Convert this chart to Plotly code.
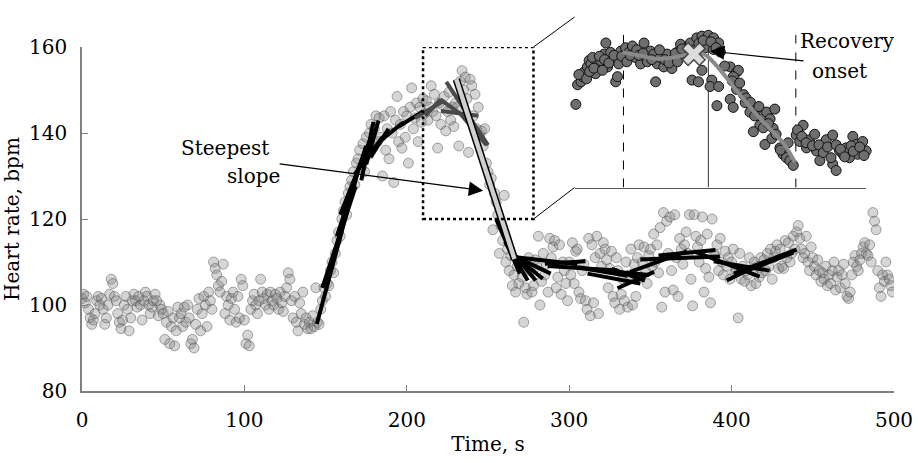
import plotly.graph_objects as go

# ---------------- data ----------------
t_sec = list(range(500))
heart_rate = [
    101.5, 102.5, 100.5, 102, 99, 97, 95.5, 96.5, 98, 101,
    102, 100, 101.5, 99, 95.5, 97, 100, 102.5, 106, 105,
    102, 101, 98, 96, 94.5, 96.5, 100, 102, 99, 94,
    97, 101, 102.5, 101, 99.5, 102, 100, 96.5, 101, 103,
    102, 100, 98, 99.5, 101, 102.5, 101, 97.5, 100, 99,
    98, 92, 96, 98.5, 91, 95, 97, 90.5, 94, 99.5,
    97, 98, 95, 99.5, 96, 100, 97, 91, 92, 90,
    95.5, 99, 101.5, 94, 98, 102, 100, 95, 103, 101,
    99, 110, 108.5, 107, 104.5, 103, 105.5, 109.5, 98, 102,
    100, 96.5, 101.5, 103, 99, 96, 102, 97, 106, 104.5,
    96.5, 91, 93, 90.5, 99, 101, 102.5, 100, 98, 101,
    106, 103, 101.5, 100, 102.5, 99, 103, 101, 100, 102.5,
    101.5, 99, 103, 100.5, 98.5, 102, 104, 107.5, 106, 101,
    97, 102, 96, 94, 100.5, 98, 103, 95.5, 97, 94.5,
    96, 94.5, 97.5, 95, 104, 96, 95.5, 99, 101, 104,
    102, 105, 104.5, 108, 110, 107.5, 112, 115, 117, 116,
    120, 122, 124, 121, 126, 127.5, 129, 131, 128, 133,
    134, 136, 132, 137.5, 131, 139, 135, 140, 142, 137,
    141, 144, 138, 143.5, 139, 130, 144, 136, 141, 134,
    145, 140, 128.5, 143, 148.5, 138, 142, 136.5, 145, 139,
    144, 133, 146, 150.5, 141, 143.5, 147, 138, 146, 142.5,
    148, 144.5, 147.5, 143, 146, 151, 145, 149, 144, 136.5,
    147, 142, 146.5, 148.5, 140.5, 145, 149.5, 143, 146, 141.5,
    147, 146, 137, 152, 154.5, 150, 153, 148, 135.5, 152.5,
    151, 144, 149, 141, 146, 139.5, 140.5, 137, 141, 133,
    131, 128, 129.5, 117.5, 126, 124, 121, 112, 118.5, 115,
    125.5, 110, 113, 108, 111.5, 104.5, 107, 103, 109, 105,
    110, 106.5, 96, 104, 102.5, 111, 108, 103, 104.5, 110.5,
    109, 116, 100, 105.5, 112, 107, 109.5, 103, 115.5, 111,
    113.5, 115, 104, 106.5, 114, 102.5, 110, 108, 105, 101,
    110, 107, 114.5, 105, 112.5, 113, 103, 101.5, 108, 109.5,
    101, 99, 115.5, 97.5, 114, 100.5, 111, 116, 98, 112,
    109, 114.5, 113, 110.5, 104, 108.5, 112.5, 102, 100.5, 111,
    108, 99, 102.5, 106, 101, 110, 99.5, 107, 113, 100,
    109.5, 102, 111, 114, 106.5, 110, 113.5, 108, 105, 111.5,
    113, 109, 116.5, 110, 114, 107.5, 118, 99.5, 121.5, 103,
    119.5, 112, 120.5, 108, 103.5, 121, 111, 102, 115.5, 113,
    109.5, 114, 117, 112, 121, 106, 99.8, 121, 116, 113.5,
    110, 115, 120.5, 103, 108.5, 116.5, 106.5, 100.5, 120, 112,
    111.5, 114, 108, 115.5, 110, 107, 112.5, 109, 111, 106,
    110, 113, 107.5, 108, 97, 112, 106, 109, 105.5, 108,
    107, 111, 104.5, 108.5, 110, 105, 109, 106.5, 111, 107.5,
    110.5, 108, 112, 109, 113, 106, 111, 112.5, 114, 108.5,
    113, 109, 108.5, 115, 111, 114.5, 110, 112, 116, 113,
    117, 118.5, 115.5, 113, 111, 112, 116, 110, 108, 113.5,
    111, 109, 107, 110.5, 108, 105.5, 107.5, 106, 109, 104.5,
    107, 105, 108, 110, 103.5, 106.5, 108, 104, 107, 109.5,
    105, 102, 101.5, 103, 107, 110, 111.5, 109, 108, 110.5,
    112, 113.5, 114.5, 112, 111.5, 114, 110, 121.5, 119.5, 117.5,
    108, 104, 102, 107, 105.5, 110, 107, 106, 104.5, 103,
]

# local linear fits (black)
fit_x0 = [144.6, 148, 157, 159, 172, 175, 177.7, 168, 183, 195,
          255, 260.4, 263.5, 265.3, 266.5, 267.2, 285, 286.8, 305, 311.3,
          311.3, 329.7, 326, 337.6, 343.8, 355, 376.8, 389, 397, 401.3, 407.5]
fit_y0 = [95.6, 104, 116, 121, 129, 132.7, 134.3, 130.5, 138, 141.5,
          120, 114.7, 112.9, 111.8, 111.3, 111.1, 109.6, 109.1, 108.8, 108.4,
          107.3, 103.9, 108.4, 107.7, 110.6, 111.5, 112.5, 110.2, 105.7, 107.3, 107.7]
fit_x1 = [169.5, 168.5, 175, 178, 179.5, 182.6, 188.7, 185, 198, 210,
          269.6, 274.5, 279.4, 283.7, 288.6, 305.1, 310, 329.7, 335.8, 349.3,
          343.8, 352.3, 346.6, 372.5, 392.8, 390, 417.3, 423.4, 417.3, 440, 438]
fit_y1 = [130.5, 127.6, 137, 139, 142.6, 142.9, 141, 139, 142.5, 145,
          107.3, 105.7, 105.7, 106.1, 107.3, 109.5, 110.2, 108, 106.8, 107,
          105, 107.7, 105.7, 112.5, 111.3, 112.8, 106.6, 108, 109.5, 112.9, 112.2]

# local fits near the peak (dark grey)
peak_x0 = [205, 211.4, 220.6, 221, 224.3, 233]
peak_y0 = [143.5, 144, 147.8, 145.1, 151.9, 144.5]
peak_x1 = [222, 220.6, 232.8, 244, 250, 249]
peak_y1 = [147.3, 147.8, 144.5, 144, 137.2, 137.2]

# steepest slope fit
steep_x = [230.5, 266.3]
steep_y = [152.5, 110.7]

# zoom box (s, bpm)
box_x = [210, 278]
box_y = [120, 160]

# inset data
inset_x = [210.3, 209.9, 209.5, 210.7, 211.5, 211.9, 212.2, 213.0, 213.4, 213.8, 214.2, 214.9, 215.3,
           216.1, 216.9, 217.3, 217.7, 218.4, 218.8, 219.6, 220.0, 220.8, 221.5, 221.9, 222.7, 223.5,
           224.2, 225.4, 226.2, 226.6, 227.7, 228.5, 228.9, 229.3, 230.0, 230.8, 231.6, 232.7, 233.1,
           233.9, 234.7, 235.4, 236.2, 237.0, 238.5, 239.7, 241.2, 242.4, 243.6, 240.5, 242.4, 237.4,
           238.9, 239.7, 242.0, 241.6, 243.6, 243.2, 246.3, 247.8, 248.2, 247.0, 247.8, 249.4, 246.3,
           247.0, 249.8, 250.9, 252.5, 253.6, 254.8, 256.7, 255.6, 253.2, 251.7, 256.3, 254.4, 257.9,
           258.6, 259.4, 260.2, 261.0, 263.3, 261.7, 262.5, 264.8, 264.1, 266.4, 267.2, 267.9, 268.7,
           270.2, 270.2, 271.0, 271.8, 272.6, 273.3, 274.9, 275.7, 276.0, 277.2, 278.0, 274.1, 264.8,
           211.0, 212.8, 213.5, 214.5, 215.8, 216.5, 217.0, 218.0, 219.2, 220.3, 221.0, 222.2, 223.0,
           224.5, 225.0, 226.0, 227.0, 228.0, 229.8, 231.0, 232.0, 233.5, 234.0, 235.0, 236.5, 237.8,
           239.0, 240.0, 241.8, 243.0, 244.0, 245.0, 246.8, 248.5, 250.0, 251.0, 252.0, 253.0, 254.0,
           255.2, 256.0, 257.0, 258.0, 259.8, 262.0, 263.0, 264.0, 265.5, 266.0, 267.0, 268.0, 269.0,
           269.8, 271.0, 272.0, 273.0, 274.5, 275.0, 276.5, 277.5]
inset_y = [139.5, 147.9, 143.7, 144.1, 144.8, 146.0, 147.1, 148.3, 149.8, 149.0, 150.5, 146.7, 148.6,
           149.8, 151.3, 153.9, 148.3, 151.7, 149.8, 144.8, 146.0, 152.0, 150.5, 152.8, 151.7, 153.2,
           150.5, 149.0, 153.9, 150.5, 152.0, 151.3, 144.8, 149.0, 150.5, 148.3, 151.3, 147.9, 150.2,
           151.7, 153.6, 151.3, 152.8, 153.9, 155.1, 155.5, 155.7, 155.1, 153.9, 152.8, 152.4, 145.2,
           144.8, 147.5, 145.2, 143.7, 143.7, 139.2, 148.3, 147.1, 147.5, 146.0, 143.0, 141.8, 140.7,
           138.8, 139.9, 137.7, 138.4, 136.1, 137.7, 138.4, 136.1, 134.6, 133.1, 133.9, 130.1, 129.3,
           127.8, 127.0, 126.3, 125.2, 134.6, 132.3, 130.8, 131.2, 129.3, 128.6, 126.3, 130.1, 131.2,
           132.3, 125.5, 124.0, 128.6, 127.8, 129.3, 132.0, 130.1, 127.8, 130.8, 128.6, 127.0, 119.8,
           146.5, 145.5, 147.2, 148.0, 150.8, 147.5, 150.0, 149.2, 151.0, 149.0, 150.8, 149.5, 151.0,
           152.3, 151.0, 151.5, 149.5, 150.0, 152.3, 150.0, 149.2, 151.5, 149.5, 152.5, 150.8, 152.2,
           153.8, 154.5, 154.2, 152.8, 151.8, 148.5, 145.0, 144.5, 141.0, 140.0, 136.8, 139.0, 134.0,
           135.0, 131.5, 132.5, 128.8, 130.5, 133.5, 132.0, 130.5, 129.8, 132.5, 130.0, 128.2, 129.5,
           127.0, 130.0, 129.0, 127.2, 129.8, 128.5, 129.5, 127.5]

inset_fit_x = [221.2, 225.4, 229.3, 233.1, 237.0, 240.1, 241.6, 244.7, 249.4, 254.0, 258.6, 261.4]
inset_fit_y = [151.7, 150.9, 150.2, 150.5, 151.4, 151.3, 150.2, 146.7, 140.7, 135.4, 130.5, 125.9]

window_x = [221.4, 261.6]       # dashed window limits
window_top = [155.8, 155.8]
onset_x = 241.2
onset_top = 154.7
onset_marker = (237.8, 151.3)

# ---------------- geometry ----------------
W, H = 918, 463
ML, MR, MT, MB = 82, 20, 5, 72
AW, AH = W - ML - MR, H - MT - MB
X_RANGE = [0, 500]
Y_RANGE = [80, 160]
main_top = (H - MB - 36) / AH          # main axes top in paper units
inset_dom_x = [(577 - ML) / AW, (870 - ML) / AW]
inset_dom_y = [(H - MB - 181) / AH, 1.0]
FONT = "DejaVu Serif"
FS = 20


def px2paper_x(px):
    return (px - ML) / AW


def py2paper_y(py):
    return (H - MB - py) / AH


def main_to_paper(xv, yv):
    return ((xv - X_RANGE[0]) / (X_RANGE[1] - X_RANGE[0]),
            main_top * (yv - Y_RANGE[0]) / (Y_RANGE[1] - Y_RANGE[0]))


def seg_lists(x0, y0, x1, y1):
    xs, ys = [], []
    for a, b, c, d in zip(x0, y0, x1, y1):
        xs += [a, c, None]
        ys += [b, d, None]
    return xs, ys


fig = go.Figure()

fig.add_trace(go.Scatter(
    x=t_sec, y=heart_rate, mode="markers",
    marker=dict(size=10, color="rgba(128,128,128,0.33)",
                line=dict(color="rgba(70,70,70,0.45)", width=1)),
    showlegend=False, hoverinfo="skip"))

bx, by = seg_lists(fit_x0, fit_y0, fit_x1, fit_y1)
fig.add_trace(go.Scatter(x=bx, y=by, mode="lines",
                         line=dict(color="black", width=4), showlegend=False))
gx, gy = seg_lists(peak_x0, peak_y0, peak_x1, peak_y1)
fig.add_trace(go.Scatter(x=gx, y=gy, mode="lines",
                         line=dict(color="#4a4a4a", width=4), showlegend=False))
fig.add_trace(go.Scatter(x=steep_x, y=steep_y, mode="lines",
                         line=dict(color="black", width=7.5), showlegend=False))
fig.add_trace(go.Scatter(x=steep_x, y=steep_y, mode="lines",
                         line=dict(color="#cfcfcf", width=4.5), showlegend=False))

# inset traces
fig.add_trace(go.Scatter(
    x=[window_x[0], window_x[0], None, window_x[1], window_x[1]],
    y=[box_y[0], window_top[0], None, box_y[0], window_top[1]],
    mode="lines", line=dict(color="black", width=1, dash="dash"),
    xaxis="x2", yaxis="y2", showlegend=False))
fig.add_trace(go.Scatter(
    x=[onset_x, onset_x], y=[box_y[0], onset_top], mode="lines",
    line=dict(color="black", width=0.8), xaxis="x2", yaxis="y2", showlegend=False))
fig.add_trace(go.Scatter(
    x=inset_x, y=inset_y, mode="markers",
    marker=dict(size=10, color="#6e6e6e", line=dict(color="#111111", width=1)),
    xaxis="x2", yaxis="y2", showlegend=False, cliponaxis=False))
fig.add_trace(go.Scatter(
    x=inset_fit_x, y=inset_fit_y, mode="lines", line=dict(color="#8a8a8a", width=4, shape="spline"),
    xaxis="x2", yaxis="y2", showlegend=False))
fig.add_trace(go.Scatter(
    x=[onset_marker[0]], y=[onset_marker[1]], mode="markers",
    marker=dict(symbol="x", size=20, color="#dcdcdc", line=dict(color="#454545", width=1.5)),
    xaxis="x2", yaxis="y2", showlegend=False, cliponaxis=False))

axis_common = dict(showgrid=False, zeroline=False, showline=True, linecolor="#808080",
                   linewidth=1.5, ticks="inside", ticklen=6, tickcolor="#808080", tickwidth=1.2,
                   tickfont=dict(family=FONT, size=FS, color="black"))

fig.update_layout(
    width=W, height=H,
    margin=dict(l=ML, r=MR, t=MT, b=MB),
    paper_bgcolor="white", plot_bgcolor="white",
    showlegend=False,
    font=dict(family=FONT, size=FS, color="black"),
    xaxis=dict(range=X_RANGE, tickvals=[0, 100, 200, 300, 400, 500], domain=[0, 1],
               ticklabelstandoff=10,
               title=dict(text="Time, s", font=dict(family=FONT, size=FS, color="black"), standoff=6),
               **axis_common),
    yaxis=dict(range=Y_RANGE, tickvals=[80, 100, 120, 140, 160], domain=[0, main_top],
               ticklabelstandoff=9,
               title=dict(text="Heart rate, bpm", font=dict(family=FONT, size=FS, color="black"), standoff=8),
               **axis_common),
    xaxis2=dict(domain=inset_dom_x, range=box_x, anchor="y2", showline=True, linecolor="#555555",
                linewidth=1.2, showticklabels=False, ticks="", showgrid=False, zeroline=False),
    yaxis2=dict(domain=inset_dom_y, range=box_y, anchor="x2", visible=False),
)

# zoom box and connectors
fig.add_shape(type="rect", xref="x", yref="y", x0=box_x[0], x1=box_x[1], y0=box_y[0], y1=box_y[1],
              line=dict(color="black", width=2.5, dash="dot"))
cx_top, cy_top = main_to_paper(box_x[1], box_y[1])
cx_bot, cy_bot = main_to_paper(box_x[1], box_y[0])
fig.add_shape(type="line", xref="paper", yref="paper", x0=cx_top, y0=cy_top,
              x1=inset_dom_x[0], y1=inset_dom_y[1], line=dict(color="black", width=1))
fig.add_shape(type="line", xref="paper", yref="paper", x0=cx_bot, y0=cy_bot,
              x1=inset_dom_x[0], y1=inset_dom_y[0], line=dict(color="black", width=1))

# annotations
tfont = dict(family=FONT, size=FS, color="black")
fig.add_annotation(text="Steepest", xref="paper", yref="paper", x=px2paper_x(226), y=py2paper_y(140),
                   showarrow=False, font=tfont, xanchor="center", yanchor="middle")
fig.add_annotation(text="slope", xref="paper", yref="paper", x=px2paper_x(254), y=py2paper_y(169),
                   showarrow=False, font=tfont, xanchor="center", yanchor="middle")
fig.add_annotation(text="", x=247, y=126.6, xref="x", yref="y", ax=-205, ay=-27,
                   showarrow=True, arrowhead=2, arrowsize=2.4, arrowwidth=1.2, arrowcolor="black")
fig.add_annotation(text="Recovery", xref="paper", yref="paper", x=px2paper_x(851), y=py2paper_y(30),
                   showarrow=False, font=tfont, xanchor="center", yanchor="middle")
fig.add_annotation(text="onset", xref="paper", yref="paper", x=px2paper_x(843), y=py2paper_y(61),
                   showarrow=False, font=tfont, xanchor="center", yanchor="middle")
fig.add_annotation(text="", x=241.6, y=152.0, xref="x2", yref="y2", ax=95, ay=10,
                   showarrow=True, arrowhead=2, arrowsize=2.4, arrowwidth=1.2, arrowcolor="black")

fig.write_html("out.html")
